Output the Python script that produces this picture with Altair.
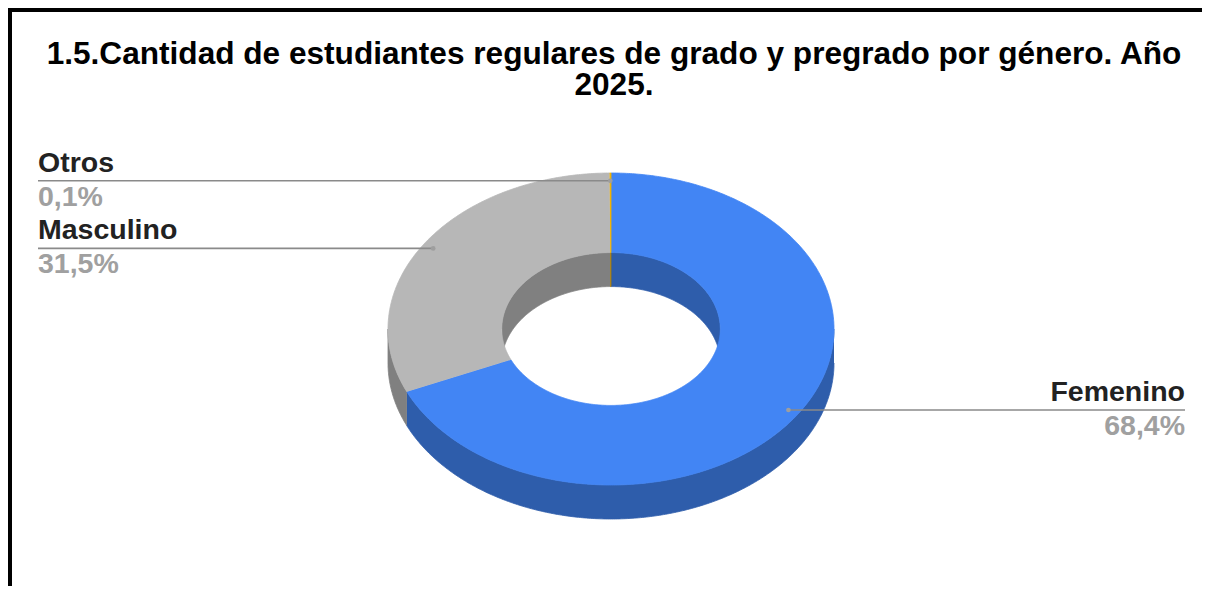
import math
import altair as alt
import pandas as pd

# ---------------- data ----------------
title_lines = ["1.5.Cantidad de estudiantes regulares de grado y pregrado por género. Año", "2025."]
categories = ["Femenino", "Masculino", "Otros"]
shares = [68.4, 31.5, 0.1]
share_labels = ["68,4%", "31,5%", "0,1%"]
top_colors = ["#4285f4", "#b7b7b7", "#f4b400"]
side_colors = ["#2e5dab", "#808080", "#ab7e00"]
label_side = ["right", "left", "left"]

# ---------------- geometry (page pixel units) ----------------
CX, CY, RX, RY, HOLE, DEPTH = 611, 329, 223, 156, 0.49, 34
LABEL_LEFT_X, LABEL_RIGHT_X = 38, 1185
W, H = 1194, 578


def pt(t_deg, r, dz=0.0):
    t = math.radians(t_deg)
    return CX + r * RX * math.sin(t), CY - r * RY * math.cos(t) + dz


def arc(a, b, r, dz):
    n = max(2, int(abs(b - a) * 2) + 2)
    return [pt(a + (b - a) * k / (n - 1), r, dz) for k in range(n)]


total = sum(shares)
starts, ends = [], []
acc = 0.0
for s in shares:
    starts.append(acc / total * 360)
    acc += s
    ends.append(acc / total * 360)

top_rows, wall_rows = [], []
for k in range(len(categories)):
    a, b = starts[k], ends[k]
    poly = arc(a, b, 1, 0) + arc(b, a, HOLE, 0)
    for i, (x, y) in enumerate(poly):
        top_rows.append(dict(pid=f"t{k}", i=i, x=x, y=y, col=top_colors[k]))
    # outer wall: front half (90..270)
    lo, hi = max(a, 90), min(b, 270)
    if hi > lo:
        poly = arc(lo, hi, 1, 0) + arc(hi, lo, 1, DEPTH)
        for i, (x, y) in enumerate(poly):
            wall_rows.append(dict(pid=f"o{k}", i=i, x=x, y=y, col=side_colors[k]))
    # inner wall: back half (270..360, 0..90)
    for j, (ra, rb) in enumerate([(0, 90), (270, 360)]):
        lo, hi = max(a, ra), min(b, rb)
        if hi > lo:
            poly = arc(lo, hi, HOLE, 0) + arc(hi, lo, HOLE, DEPTH)
            for i, (x, y) in enumerate(poly):
                wall_rows.append(dict(pid=f"i{k}{j}", i=i, x=x, y=y, col=side_colors[k]))

label_rows = []
for k in range(len(categories)):
    mid = (starts[k] + ends[k]) / 2
    x, y = pt(mid, 0.95)
    lx = LABEL_RIGHT_X if label_side[k] == "right" else LABEL_LEFT_X
    label_rows.append(dict(cat=categories[k], val=share_labels[k], x=x, y=y, lx=lx, side=label_side[k]))

tops = pd.DataFrame(top_rows)
walls = pd.DataFrame(wall_rows)
labels = pd.DataFrame(label_rows)

xs = alt.Scale(domain=[8, 8 + W], nice=False, zero=False)
ys = alt.Scale(domain=[8, 8 + H], nice=False, zero=False, reverse=True)


def poly_layer(df):
    return alt.Chart(df).mark_line(strokeWidth=0.8, interpolate="linear").encode(
        x=alt.X("x:Q", scale=xs, axis=None),
        y=alt.Y("y:Q", scale=ys, axis=None),
        detail="pid:N",
        order="i:Q",
        fill=alt.Fill("col:N", scale=None),
        stroke=alt.Stroke("col:N", scale=None),
    )


wall_layer = poly_layer(walls)
top_layer = poly_layer(tops)

base = alt.Chart(labels)
leaders = base.mark_rule(color="#8a8a8a", strokeWidth=1.6).encode(
    x=alt.X("x:Q", scale=xs, axis=None),
    x2="lx:Q",
    y=alt.Y("y:Q", scale=ys, axis=None),
)
dots = base.mark_circle(color="#9e9e9e", size=22, opacity=1).encode(
    x=alt.X("x:Q", scale=xs, axis=None),
    y=alt.Y("y:Q", scale=ys, axis=None),
)

text_layers = []
for side in ["left", "right"]:
    sub = base.transform_filter(alt.datum.side == side)
    name = sub.mark_text(align=side, baseline="alphabetic", dy=-9, font="Liberation Sans",
                         fontWeight="bold", fontSize=28.5, color="#222222").encode(
        x=alt.X("lx:Q", scale=xs, axis=None),
        y=alt.Y("y:Q", scale=ys, axis=None),
        text="cat:N",
    )
    val = sub.mark_text(align=side, baseline="alphabetic", dy=25, font="Liberation Sans",
                        fontWeight="bold", fontSize=28.5, color="#a0a0a0").encode(
        x=alt.X("lx:Q", scale=xs, axis=None),
        y=alt.Y("y:Q", scale=ys, axis=None),
        text="val:N",
    )
    text_layers += [name, val]

title_mark = alt.Chart(labels).mark_text(
    align="center", baseline="alphabetic", lineBreak="\n", lineHeight=31,
    font="Liberation Sans", fontWeight="bold", fontSize=31.6, color="#000000",
).encode(
    x=alt.value(606), y=alt.value(56), text=alt.value("\n".join(title_lines))
).transform_filter(alt.datum.side == "right")

frame_top = alt.Chart(labels).mark_rule(color="#000000", strokeWidth=5).encode(
    x=alt.value(0), x2=alt.value(W), y=alt.value(1.5)
)
frame_left = alt.Chart(labels).mark_rule(color="#000000", strokeWidth=5).encode(
    x=alt.value(1.5), y=alt.value(0), y2=alt.value(H)
)

chart = alt.layer(
    wall_layer, top_layer, leaders, dots, *text_layers, title_mark, frame_top, frame_left
).properties(
    width=W,
    height=H,
    autosize=alt.AutoSizeParams(type="none"),
    padding=0,
    background="#ffffff",
).configure_view(stroke=None)

chart.save("out.html", embed_options={"renderer": "svg", "actions": False})
